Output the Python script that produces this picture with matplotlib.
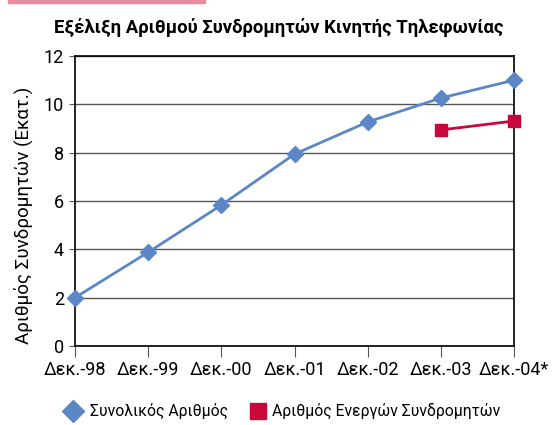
import matplotlib
matplotlib.use("Agg")
import matplotlib.pyplot as plt
from matplotlib.lines import Line2D
from matplotlib.patches import Rectangle

categories = ["Δεκ.-98", "Δεκ.-99", "Δεκ.-00", "Δεκ.-01", "Δεκ.-02", "Δεκ.-03", "Δεκ.-04*"]
total = [2.0, 3.88, 5.83, 7.94, 9.27, 10.26, 11.0]
active_cats = ["Δεκ.-03", "Δεκ.-04*"]
active = [8.94, 9.31]
yticks = [0, 2, 4, 6, 8, 10, 12]

title = "Εξέλιξη Αριθμού Συνδρομητών Κινητής Τηλεφωνίας"
ylabel = "Αριθμός Συνδρομητών (Εκατ.)"
legend_labels = ["Συνολικός Αριθμός", "Αριθμός Ενεργών Συνδρομητών"]

blue = "#5b87c6"
red = "#c8073b"
font = ["Roboto", "DejaVu Sans"]
plt.rcParams['font.family'] = font

fig = plt.figure(figsize=(5.6, 4.25), dpi=100)
ax = fig.add_axes([75/560, 1-346/425, (514-75)/560, (346-56)/425])

x = list(range(len(categories)))
xa = [categories.index(c) for c in active_cats]
ax.plot(x, total, color=blue, lw=2, marker="D", ms=8, zorder=3, clip_on=False)
ax.plot(xa, active, color=red, lw=2, marker="s", ms=8, zorder=3, clip_on=False)

ax.set_xlim(0, len(categories)-1)
ax.set_ylim(0, 12)
ax.set_yticks(yticks)
ax.set_xticks(x)
ax.set_xticklabels(categories, fontsize=13)
ax.tick_params(axis='y', labelsize=13, length=4, color="#555555", pad=4)
ax.tick_params(axis='x', length=8, color="#555555", pad=3)
ax.yaxis.grid(True, color="#555555", lw=1)
for s in ax.spines.values():
    s.set_color("black")
    s.set_linewidth(1.2)

ax.set_ylabel(ylabel, fontsize=13.5)
ax.yaxis.set_label_coords((33-75)/439, (346-215)/290)
fig.text(279/560, 1-27/425, title, ha="center", va="center", fontsize=13.3, fontweight="bold")

fig.patches.append(Rectangle((8/560, 1-2.5/425), 197/560, 2.5/425, transform=fig.transFigure,
                             color="#e88aa0", zorder=5))

# legend
ly = 1-411/425
fig.add_artist(Line2D([73/560], [ly], color=blue, marker="D", ms=11, ls="none", transform=fig.transFigure))
fig.add_artist(Line2D([258/560], [ly], color=red, marker="s", ms=11, ls="none", transform=fig.transFigure))
fig.text(90/560, ly, legend_labels[0], ha="left", va="center", fontsize=11.3)
fig.text(272/560, ly, legend_labels[1], ha="left", va="center", fontsize=11.3)

fig.savefig("out.png", dpi=100)
